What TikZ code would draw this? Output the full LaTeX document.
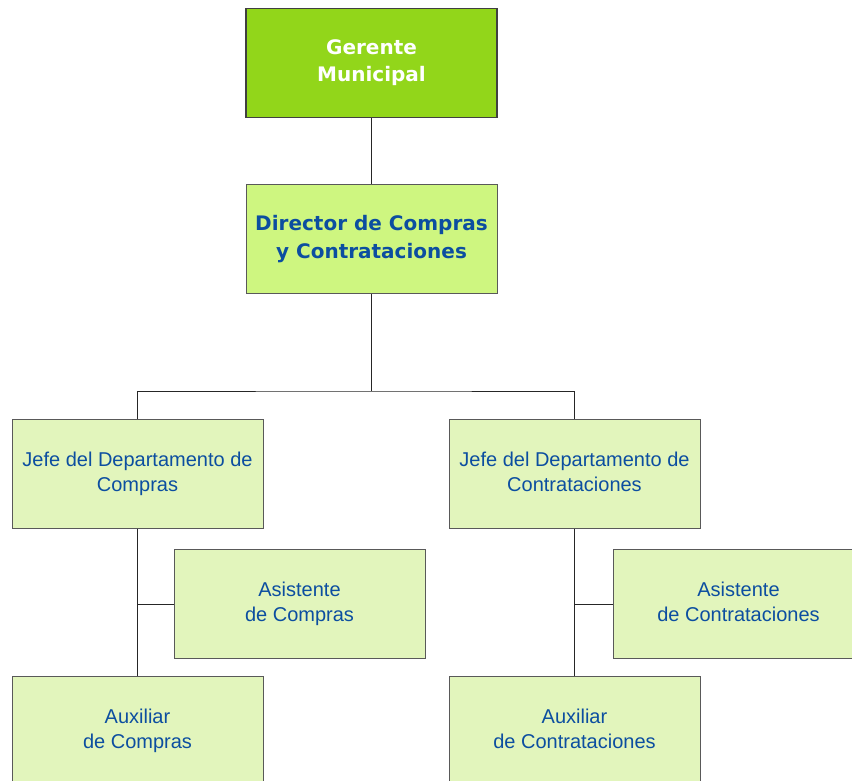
\documentclass[tikz,border=0pt]{standalone}
\usepackage{fontspec}
\setmainfont{Liberation Sans}
\newfontfamily\dvsans{DejaVu Sans}
\usetikzlibrary{calc}
\definecolor{topgreen}{RGB}{146,214,26}
\definecolor{midgreen}{RGB}{206,246,128}
\definecolor{palegreen}{RGB}{226,245,188}
\definecolor{textblue}{RGB}{12,78,160}
\tikzset{
  box/.style={draw=black!65, line width=1pt, fill=palegreen, minimum width=251pt,
    minimum height=109pt, inner sep=0pt, align=center, text=textblue,
    font=\fontsize{20}{25}\selectfont,
    execute at end node=\rule[-4.5pt]{0pt}{0pt}},
  bossbox/.style={box, draw=black!75, line width=1.5pt, fill=topgreen, text=white,
    font=\dvsans\bfseries\fontsize{20}{27}\selectfont},
  headbox/.style={box, fill=midgreen, font=\dvsans\bfseries\fontsize{20}{28}\selectfont},
  link/.style={draw=black!85, line width=1pt}
}
\begin{document}
\begin{tikzpicture}[x=1pt,y=-1pt]
			%%%%% START %%%%%
			\useasboundingbox (0,0) rectangle (852,780);
			
			\node[bossbox] (gerente) at (371.5, 63) {Gerente\\Municipal};
			\node[headbox] (director) at (371.5, 239) {Director de Compras\\y Contrataciones};
			
			\node[box] (jefeComp) at (137.5, 473.5) {Jefe del Departamento de\\Compras};
			\node[box] (jefeCont) at (574.5, 473.5) {Jefe del Departamento de\\Contrataciones};
			
			\node[box] (asisComp) at (299.5, 604) {Asistente\\ de Compras};
			\node[box] (asisCont) at (738.5, 604) {Asistente\\ de Contrataciones};
			
			\node[box] (auxComp) at (137.5, 730.5) {Auxiliar\\ de Compras};
			\node[box] (auxCont) at (574.5, 730.5) {Auxiliar\\ de Contrataciones};
			
			\coordinate (bus) at (371.5, 391);
			
			\draw[link] (gerente.south) -- (director.north);
			\draw[link] (director.south) -- (bus);
			\draw[link] (jefeComp.north) |- (bus) -| (jefeCont.north);
			
			\draw[link] (jefeComp.south) -- (auxComp.north);
			\draw[link] (asisComp.west) -- (asisComp.west -| jefeComp.south);
			
			\draw[link] (jefeCont.south) -- (auxCont.north);
			\draw[link] (asisCont.west) -- (asisCont.west -| jefeCont.south);
			%%%%% END %%%%%
\end{tikzpicture}
\end{document}
